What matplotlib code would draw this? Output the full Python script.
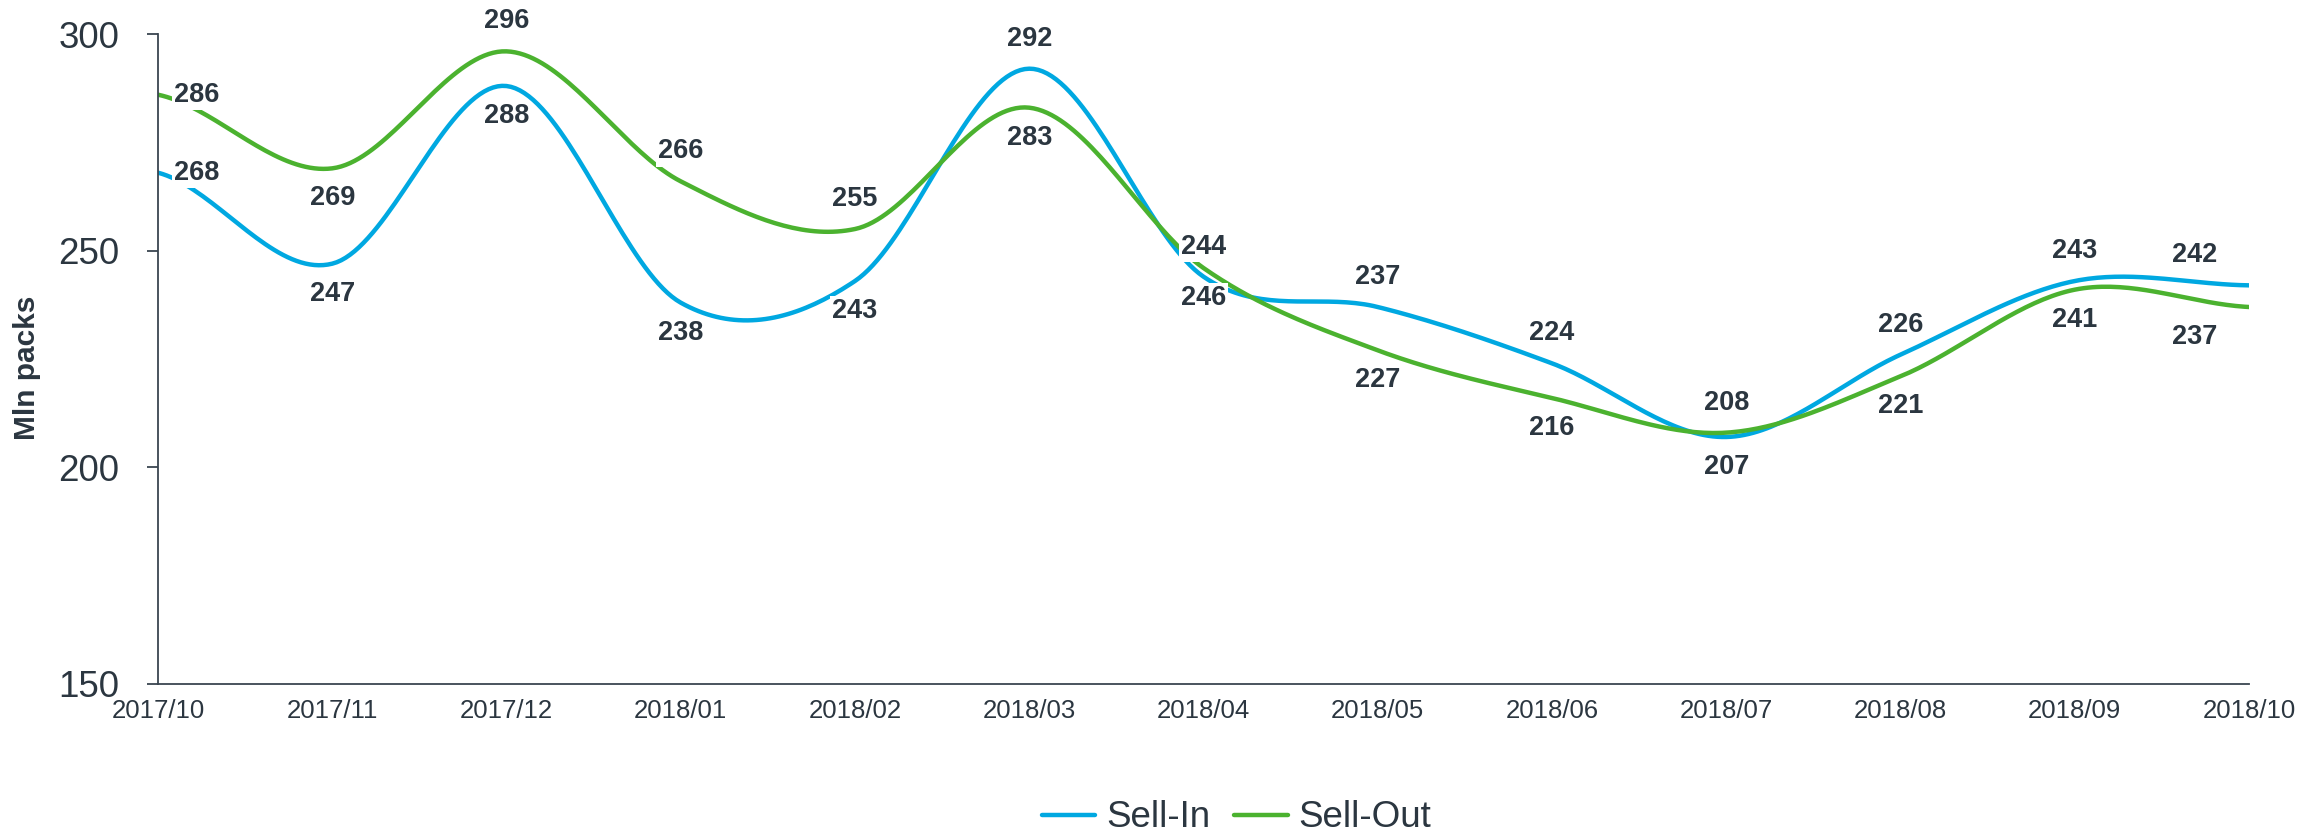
import numpy as np
import matplotlib
matplotlib.use('Agg')
import matplotlib.pyplot as plt

months = ['2017/10', '2017/11', '2017/12', '2018/01', '2018/02', '2018/03', '2018/04',
          '2018/05', '2018/06', '2018/07', '2018/08', '2018/09', '2018/10']
sell_in = [268, 247, 288, 238, 243, 292, 244, 237, 224, 207, 226, 243, 242]
sell_out = [286, 269, 296, 266, 255, 283, 246, 227, 216, 208, 221, 241, 237]

# where each data label sits: r = right, a = above, b = below
pos_in = ['r', 'b', 'b', 'b', 'b', 'a', 'a', 'a', 'a', 'b', 'a', 'a', 'a']
pos_out = ['r', 'b', 'a', 'a', 'a', 'b', 'b', 'b', 'b', 'a', 'b', 'b', 'b']

BLUE = '#00a8e1'
GREEN = '#4bb22f'
TXT = '#2b3640'

plt.rcParams['font.family'] = ['Liberation Sans', 'DejaVu Sans']


def smooth(y, n=40):
    # catmull-rom style smoothing like excel "smoothed line"
    y = np.asarray(y, dtype=float)
    k = len(y)
    m = np.zeros(k)
    m[1:-1] = (y[2:] - y[:-2]) / 2
    m[0] = (y[1] - y[0]) / 2
    m[-1] = (y[-1] - y[-2]) / 2
    xs, ys = [], []
    t = np.linspace(0, 1, n)
    for i in range(k - 1):
        h00 = 2 * t**3 - 3 * t**2 + 1
        h10 = t**3 - 2 * t**2 + t
        h01 = -2 * t**3 + 3 * t**2
        h11 = t**3 - t**2
        xs.append(i + t)
        ys.append(h00 * y[i] + h10 * m[i] + h01 * y[i + 1] + h11 * m[i + 1])
    return np.concatenate(xs), np.concatenate(ys)


fig = plt.figure(figsize=(23.2, 8.38), dpi=100)
ax = fig.add_axes([0.0681, 0.1838, 0.9013, 0.7756])

x = np.arange(len(months))
for vals, pos, col, name in [(sell_in, pos_in, BLUE, 'Sell-In'), (sell_out, pos_out, GREEN, 'Sell-Out')]:
    sx, sy = smooth(vals)
    ax.plot(sx, sy, color=col, lw=3.2, solid_capstyle='round', label=name, zorder=2)
    for i, (v, p) in enumerate(zip(vals, pos)):
        dx = 0
        if i == len(vals) - 1:
            dx = -39
        if p == 'r':
            off = (28, 0)
        elif p == 'a':
            off = (dx, 21.5)
        else:
            off = (dx, -21.5)
        ax.annotate(str(v), (i, v), xytext=off, textcoords='offset points',
                    ha='center', va='center', fontsize=19.5, fontweight='bold', color=TXT, zorder=5,
                    bbox=dict(boxstyle='square,pad=0.08', fc='white', ec='none'))

ax.set_xlim(0, len(months) - 1)
ax.set_ylim(150, 300)
ax.set_yticks([150, 200, 250, 300])
ax.set_xticks(x)
ax.set_xticklabels(months)
ax.tick_params(axis='x', length=0, pad=11, labelsize=18.5, labelcolor=TXT)
ax.tick_params(axis='y', length=8, width=1.3, color='#3a4550', pad=20, labelsize=26.5, labelcolor=TXT)
for s in ['top', 'right']:
    ax.spines[s].set_visible(False)
for s in ['left', 'bottom']:
    ax.spines[s].set_color('#3a4550')
    ax.spines[s].set_linewidth(1.3)

fig.text(0.0118, 0.561, 'Mln packs', rotation=90, ha='center', va='center',
         fontsize=21.5, fontweight='bold', color=TXT)

fig.legend(loc='center', bbox_to_anchor=(0.533, 0.024), ncol=2, frameon=False,
           fontsize=26.5, handlelength=1.45, handletextpad=0.3, columnspacing=0.65,
           labelcolor=TXT)

fig.savefig('out.png', dpi=100)
